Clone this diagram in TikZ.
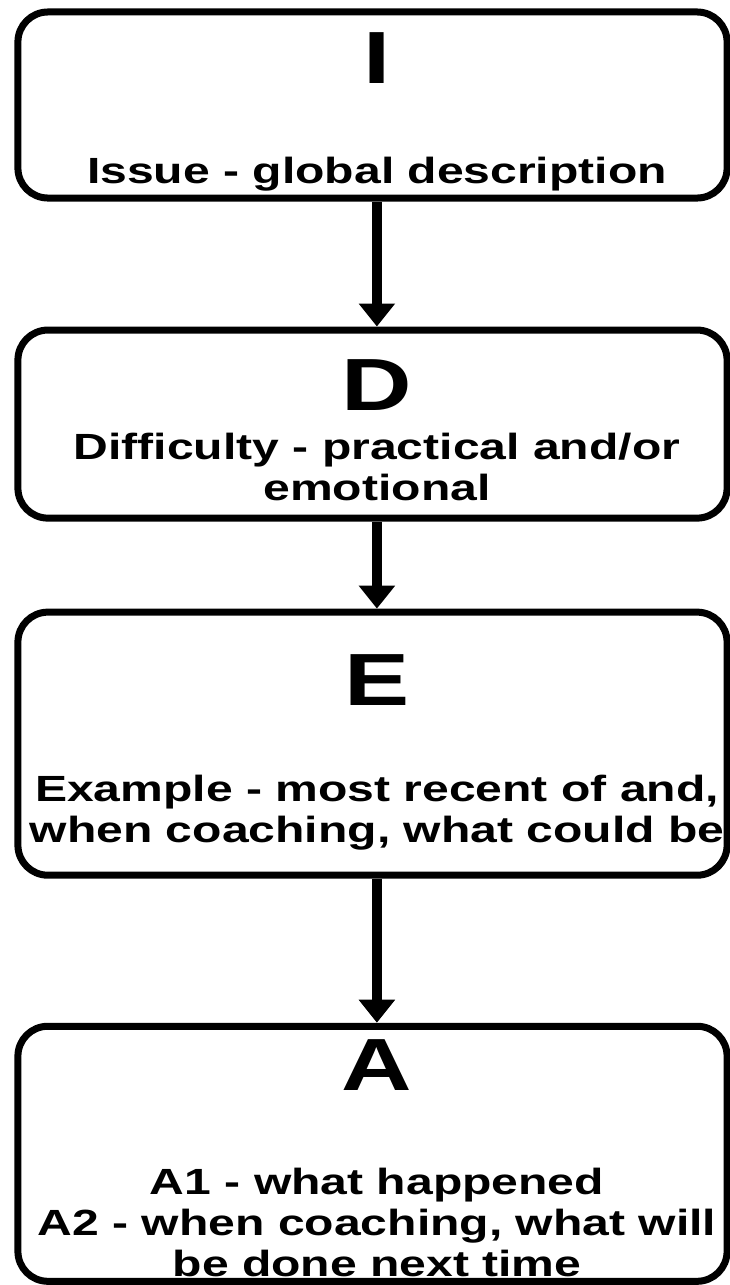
\documentclass[tikz,border=0pt]{standalone}
\usepackage{fontspec}
\newfontfamily\boxfont{Liberation Sans}[FakeStretch=1.32]
\usetikzlibrary{arrows.meta,positioning}

\begin{document}
\begin{tikzpicture}[
    x=0.025cm, y=-0.025cm,
    box/.style={draw, line width=0.175cm, rounded corners=0.75cm, minimum width=17.725cm, inner sep=0pt},
    letter/.style={font=\boxfont\bfseries\fontsize{52.6}{60}\selectfont, inner sep=0pt, anchor=base},
    desc/.style={font=\boxfont\bfseries\fontsize{25.9}{29.1}\selectfont, align=center, inner sep=0pt, anchor=base},
    arrow/.style={-{Triangle[width=0.875cm,length=0.575cm]}, line width=0.25cm}
]
    \useasboundingbox (0,0) rectangle (730,1285);

    % Boxes
    \node[box, minimum height=4.65cm] (boxI) at (372.5,105) {};
    \node[box, minimum height=4.7cm, below=3.125cm of boxI] (boxD) {};
    \node[box, minimum height=6.575cm, below=2.175cm of boxD] (boxE) {};
    \node[box, minimum height=6.375cm, below=3.6cm of boxE] (boxA) {};

    % Letters
    \node[letter] (letI) at (377,83) {I};
    \node[letter] (letD) at (377,410) {D};
    \node[letter] (letE) at (377,705) {E};
    \node[letter] (letA) at (377,1090) {A};

    % Descriptions (base = last line)
    \node[desc] (descI) at (377,183) {Issue - global description};
    \node[desc] (descD) at (377,500) {Difficulty - practical and/or\\emotional};
    \node[desc] (descE) at (377,842) {Example - most recent of and,\\when coaching, what could be};
    \node[desc] (descA) at (377,1276) {A1 - what happened\\A2 - when coaching, what will\\be done next time};

    % Arrows
    \draw[arrow] ([xshift=0.11cm]boxI.south) -- ([xshift=0.11cm]boxD.north);
    \draw[arrow] ([xshift=0.11cm]boxD.south) -- ([xshift=0.11cm]boxE.north);
    \draw[arrow] ([xshift=0.11cm]boxE.south) -- ([xshift=0.11cm]boxA.north);
\end{tikzpicture}
\end{document}
